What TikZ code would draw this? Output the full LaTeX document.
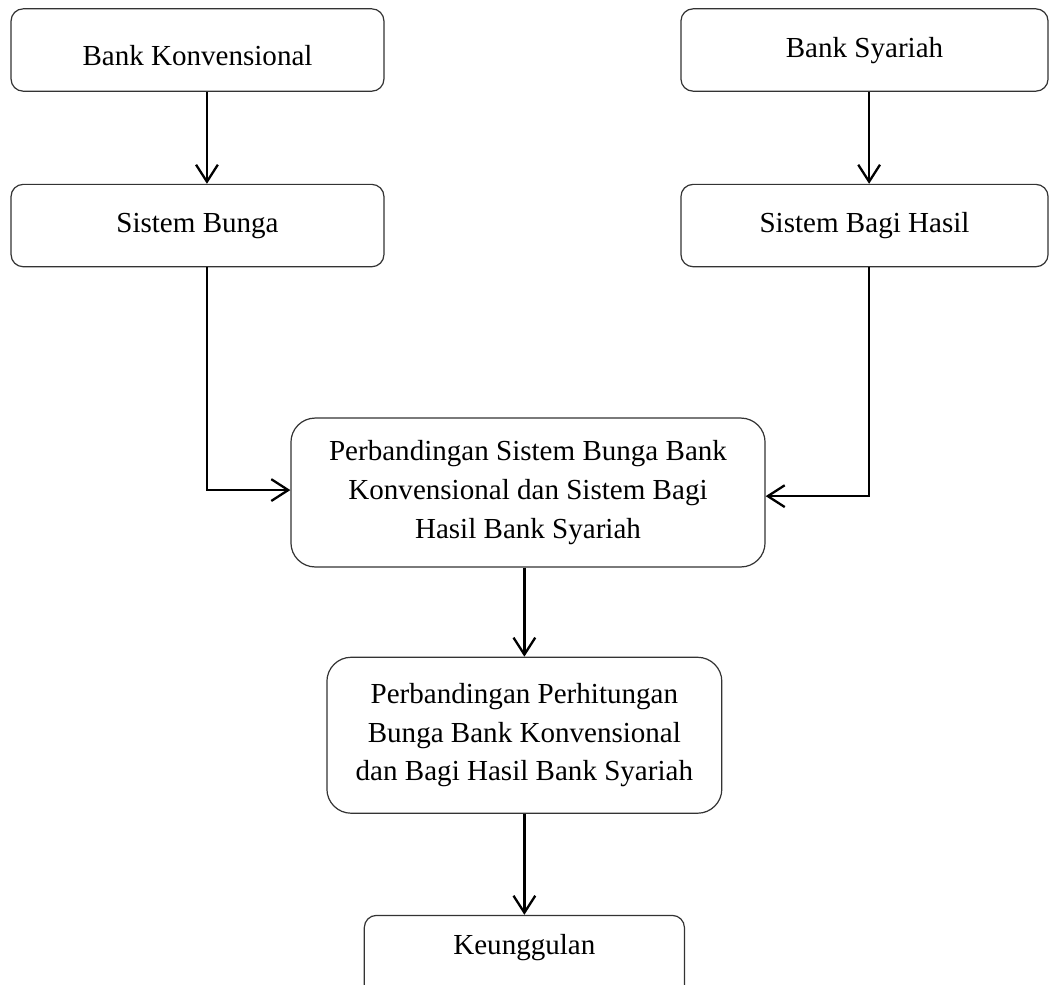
\documentclass[tikz,border=0pt]{standalone}
\usepackage{fontspec}
\setmainfont{Liberation Serif}
\usepackage{tikz}
\usetikzlibrary{positioning}
\usetikzlibrary{arrows.meta}

\begin{document}
\begin{tikzpicture}
  [
    x=0.413pt, y=-0.413pt,
    node distance=38pt,
    every node/.style={font=\fontsize{12}{16}\selectfont},
    align=center
  ]
      \tikzset{
        >={Straight Barb[length=7pt,width=9pt]},
        base/.style = {rectangle, rounded corners=5pt, draw=black!80,
                       line width=0.5pt, inner sep=0pt, text centered},
        block/.style = {base, minimum width=154pt, minimum height=34pt},
        rightstyle/.style = {block, minimum width=151.6pt},
        compstyle/.style = {base, rounded corners=10pt, minimum width=195.8pt, minimum height=61.5pt},
        calcstyle/.style = {base, rounded corners=10pt, minimum width=163.1pt, minimum height=64.4pt},
        resultstyle/.style = {block, minimum width=132.2pt},
        flow/.style = {->, line width=0.95pt},
    }
    \useasboundingbox (0,0) rectangle (1049,984);

    \node (bk) [block, text height=13pt] at (197.5,50) {Bank Konvensional};
    \node (sb) [block, below=38pt of bk] {Sistem Bunga};
    \node (bs) [rightstyle, text height=9pt] at (864.5,50) {Bank Syariah};
    \node (sbh) [rightstyle, below=38pt of bs] {Sistem Bagi Hasil};

    \node (pb) [compstyle] at (528,492.5) {Perbandingan Sistem Bunga Bank\\Konvensional dan Sistem Bagi\\Hasil Bank Syariah};
    \node (ph) [calcstyle, below=36.8pt of pb, xshift=-1.5pt] {Perbandingan Perhitungan\\Bunga Bank Konvensional\\dan Bagi Hasil Bank Syariah};
    \node (kg) [resultstyle, text depth=10pt, below=41.7pt of ph] {Keunggulan};

    \draw[flow] ([xshift=3.9pt]bk.south) -- ([xshift=3.9pt]sb.north);
    \draw[flow] ([xshift=1.9pt]bs.south) -- ([xshift=1.9pt]sbh.north);
    \draw[flow] ([xshift=3.9pt]sb.south) |- ([yshift=1pt]pb.west);
    \draw[flow] ([xshift=1.9pt]sbh.south) |- ([yshift=-1.5pt]pb.east);
    \draw[flow] (ph.north |- pb.south) -- (ph.north);
    \draw[flow] (ph) -- (kg);
\end{tikzpicture}
\end{document}
